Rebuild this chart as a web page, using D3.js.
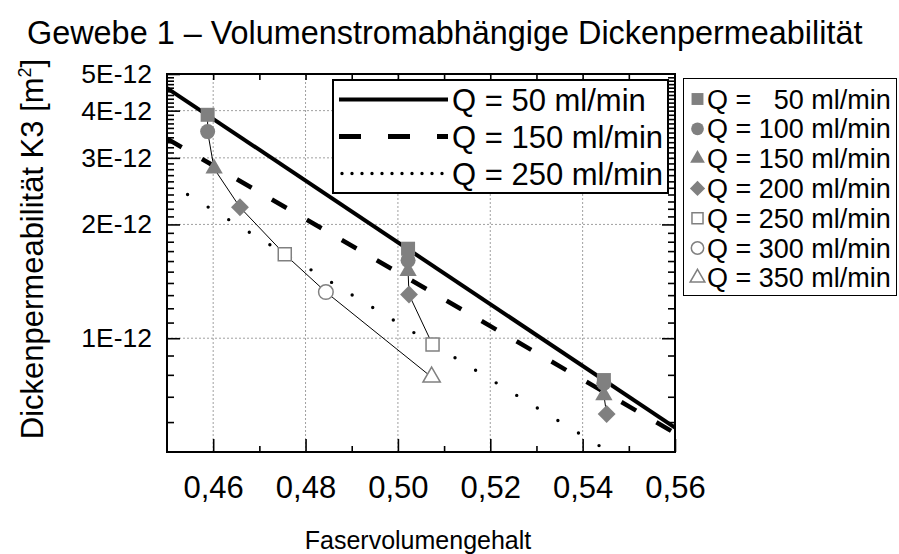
<!DOCTYPE html>
<html>
<head>
<meta charset="utf-8">
<script src="https://cdn.jsdelivr.net/npm/d3@7"></script>
<style>
  html, body { margin: 0; padding: 0; background: #fff; }
  svg { display: block; font-family: 'Liberation Sans', Arial, Helvetica, sans-serif; }
  text { white-space: pre; fill: #000; }
</style>
</head>
<body>
<svg id="chart" width="899" height="554"></svg>
<script>
// Flow rates Q [ml/min] and their marker styles
const flowRates = [50, 100, 150, 200, 250, 300, 350];
const flowLabels = ["Q =   50 ml/min", "Q = 100 ml/min", "Q = 150 ml/min", "Q = 200 ml/min",
                    "Q = 250 ml/min", "Q = 300 ml/min", "Q = 350 ml/min"];

// Measurement runs: fibre volume fraction and permeability K3 [1E-12 m²]
const run1Q  = [50, 100, 150, 200, 250, 300, 350];
const run1Vf = [0.4588, 0.4588, 0.4602, 0.4658, 0.4755, 0.4844, 0.5073];
const run1K  = [3.90, 3.52, 2.81, 2.22, 1.667, 1.325, 0.789];

const run2Q  = [50, 100, 150, 200, 250];
const run2Vf = [0.5022, 0.5022, 0.5022, 0.5024, 0.5075];
const run2K  = [1.725, 1.607, 1.506, 1.305, 0.962];

const run3Q  = [50, 100, 150, 200];
const run3Vf = [0.5446, 0.5446, 0.5446, 0.5452];
const run3K  = [0.775, 0.760, 0.707, 0.630];

// Exponential fits, given by their values at both ends of the fibre volume axis [1E-12 m²]
const fitLabels = ["Q = 50 ml/min", "Q = 150 ml/min", "Q = 250 ml/min"];
const fitVf   = [0.45, 0.56];
const fit50K  = [4.59, 0.580];
const fit150K = [3.37, 0.561];
const fit250K = [2.59, 0.392];

// Axis ticks
const xTicks = [0.46, 0.48, 0.50, 0.52, 0.54, 0.56];
const xTickLabels = ["0,46", "0,48", "0,50", "0,52", "0,54", "0,56"];
const yTicks = [1, 2, 3, 4, 5];
const yTickLabels = ["1E-12", "2E-12", "3E-12", "4E-12", "5E-12"];

// ---------------------------------------------------------------------------
const svg = d3.select("#chart");
const W = 899, H = 554;
const plot = { left: 167, right: 675, top: 74, bottom: 452 };
const GREY = "#808080";

svg.append("rect").attr("width", W).attr("height", H).attr("fill", "#fff");

const x = d3.scaleLinear().domain([0.45, 0.56]).range([plot.left, plot.right]);
const y = d3.scaleLog().domain([0.5, 5]).range([plot.bottom, plot.top]);

// minor tick positions
const xMinorBottom = d3.range(0.47, 0.556, 0.02);
const xMinorTop = d3.range(0.46, 0.556, 0.01);
const yMinor = [];
[0.5, 1, 2, 3, 4].forEach(base => {
  const step = 0.1;
  for (let v = base + step; v < (base === 0.5 ? 1 : base + 1) - 1e-9; v += step) yMinor.push(+v.toFixed(2));
});

// grid
const grid = svg.append("g").attr("stroke", "#a0a0a0").attr("stroke-width", 1).attr("stroke-dasharray", "2,2");
grid.selectAll("line.gx").data(xTicks.filter(d => d < 0.555)).join("line")
  .attr("x1", d => x(d)).attr("x2", d => x(d)).attr("y1", plot.top).attr("y2", plot.bottom);
grid.selectAll("line.gy").data(yTicks.filter(d => d < 5)).join("line")
  .attr("x1", plot.left).attr("x2", plot.right).attr("y1", d => y(d)).attr("y2", d => y(d));

// clip for plotted data
svg.append("clipPath").attr("id", "plotClip").append("rect")
  .attr("x", plot.left).attr("y", plot.top).attr("width", plot.right - plot.left).attr("height", plot.bottom - plot.top);

const dataG = svg.append("g").attr("clip-path", "url(#plotClip)");

// fit lines
const fitLine = d3.line().x(d => x(d[0])).y(d => y(d[1]));
const fits = [
  { k: fit50K, width: 4, dash: null, cap: "butt" },
  { k: fit150K, width: 4.5, dash: "17 23.4", cap: "butt" },
  { k: fit250K, width: 3.4, dash: "0 24.1", cap: "round" }
];
fits.forEach(f => {
  dataG.append("path")
    .attr("d", fitLine(fitVf.map((v, i) => [v, f.k[i]])))
    .attr("fill", "none").attr("stroke", "#000")
    .attr("stroke-width", f.width)
    .attr("stroke-dasharray", f.dash)
    .attr("stroke-linecap", f.cap);
});

// marker shapes for each flow rate
function markerPath(q, scale) {
  const s = scale || 1;
  const idx = flowRates.indexOf(q);
  const specs = [
    { type: d3.symbolSquare, size: 196, rot: 0, filled: true },
    { type: d3.symbolCircle, size: 177, rot: 0, filled: true },
    { type: d3.symbolTriangle, size: 130, rot: 0, filled: true },
    { type: d3.symbolSquare, size: 160, rot: 45, filled: true },
    { type: d3.symbolSquare, size: 169, rot: 0, filled: false },
    { type: d3.symbolCircle, size: 167, rot: 0, filled: false },
    { type: d3.symbolTriangle, size: 130, rot: 0, filled: false }
  ];
  const sp = specs[idx];
  return { d: d3.symbol().type(sp.type).size(sp.size * s * s)(), rot: sp.rot, filled: sp.filled };
}

function drawMarker(g, cx, cy, q, scale) {
  const m = markerPath(q, scale);
  g.append("path")
    .attr("d", m.d)
    .attr("transform", `translate(${cx},${cy}) rotate(${m.rot})`)
    .attr("fill", m.filled ? GREY : "#fff")
    .attr("stroke", m.filled ? "none" : GREY)
    .attr("stroke-width", m.filled ? 0 : 1.5);
}

// measurement runs: thin connecting line, then markers
const runs = [
  { q: run1Q, vf: run1Vf, k: run1K },
  { q: run2Q, vf: run2Vf, k: run2K },
  { q: run3Q, vf: run3Vf, k: run3K }
];
const runLine = d3.line().x(d => x(d.vf)).y(d => y(d.k));
runs.forEach(r => {
  const pts = r.q.map((q, i) => ({ q, vf: r.vf[i], k: r.k[i] }));
  dataG.append("path").attr("d", runLine(pts))
    .attr("fill", "none").attr("stroke", "#000").attr("stroke-width", 1);
});
runs.forEach(r => {
  r.q.forEach((q, i) => drawMarker(dataG, x(r.vf[i]), y(r.k[i]), q, 1));
});

// axes (inward ticks)
function styleAxis(g) {
  g.select(".domain").remove();
  g.selectAll(".tick line").attr("stroke", "#000").attr("stroke-width", 1.6);
}
svg.append("g").attr("transform", `translate(0,${plot.bottom})`)
  .call(d3.axisBottom(x).tickValues(xMinorBottom).tickSizeInner(-6).tickSizeOuter(0).tickFormat(""))
  .call(styleAxis);
const xAxisG = svg.append("g").attr("transform", `translate(0,${plot.bottom})`)
  .call(d3.axisBottom(x).tickValues(xTicks).tickSizeInner(-13).tickSizeOuter(0)
    .tickPadding(24).tickFormat((d, i) => xTickLabels[i]))
  .call(styleAxis);
xAxisG.selectAll(".tick text")
  .attr("font-size", 31).attr("font-family", null);

svg.append("g").attr("transform", `translate(0,${plot.top})`)
  .call(d3.axisTop(x).tickValues(xMinorTop).tickSizeInner(-6).tickSizeOuter(0).tickFormat(""))
  .call(styleAxis);

svg.append("g").attr("transform", `translate(${plot.left},0)`)
  .call(d3.axisLeft(y).tickValues(yMinor).tickSizeInner(-7).tickSizeOuter(0).tickFormat(""))
  .call(styleAxis);
const yAxisG = svg.append("g").attr("transform", `translate(${plot.left},0)`)
  .call(d3.axisLeft(y).tickValues(yTicks).tickSizeInner(-13).tickSizeOuter(0)
    .tickPadding(15).tickFormat((d, i) => yTickLabels[i]))
  .call(styleAxis);
yAxisG.selectAll(".tick text")
  .attr("font-size", 26.5).attr("font-family", null);

svg.append("g").attr("transform", `translate(${plot.right},0)`)
  .call(d3.axisRight(y).tickValues(yMinor).tickSizeInner(-7).tickSizeOuter(0).tickFormat(""))
  .call(styleAxis);
svg.append("g").attr("transform", `translate(${plot.right},0)`)
  .call(d3.axisRight(y).tickValues(yTicks.filter(d => d < 5)).tickSizeInner(-13).tickSizeOuter(0).tickFormat(""))
  .call(styleAxis);

// frame
svg.append("rect")
  .attr("x", plot.left).attr("y", plot.top)
  .attr("width", plot.right - plot.left).attr("height", plot.bottom - plot.top)
  .attr("fill", "none").attr("stroke", "#000").attr("stroke-width", 2);

// legend of the fit lines (inside the plot)
const leg1 = svg.append("g");
leg1.append("rect").attr("x", 333).attr("y", 80).attr("width", 335).attr("height", 113)
  .attr("fill", "#fff").attr("stroke", "#000").attr("stroke-width", 2);
const leg1Rows = [99.5, 136.5, 173.5];
const leg1Dash = [null, "22 27", "0 10"];
const leg1Width = [4, 5, 3.4];
const leg1Cap = ["butt", "butt", "round"];
fitLabels.forEach((lab, i) => {
  leg1.append("line")
    .attr("x1", i === 2 ? 342 : 339).attr("x2", 448)
    .attr("y1", leg1Rows[i]).attr("y2", leg1Rows[i])
    .attr("stroke", "#000").attr("stroke-width", leg1Width[i])
    .attr("stroke-dasharray", leg1Dash[i]).attr("stroke-linecap", leg1Cap[i]);
  leg1.append("text")
    .attr("x", 452).attr("y", leg1Rows[i] + 11)
    .attr("font-size", 31)
    .text(lab);
});

// legend of the markers (right of the plot)
const leg2 = svg.append("g");
leg2.append("rect").attr("x", 683.5).attr("y", 78.5).attr("width", 213).attr("height", 217)
  .attr("fill", "#fff").attr("stroke", "#000").attr("stroke-width", 1);
flowRates.forEach((q, i) => {
  const cy = 99 + i * 29.8;
  drawMarker(leg2, 697.5, cy, q, 0.85);
  leg2.append("text")
    .attr("x", 707).attr("y", cy + 9.5)
    .attr("font-size", 27)
    .text(flowLabels[i]);
});

// titles
svg.append("text")
  .attr("x", 27).attr("y", 44)
  .attr("font-size", 32.4)
  .text("Gewebe 1 – Volumenstromabhängige Dickenpermeabilität");

svg.append("text")
  .attr("x", 418).attr("y", 549)
  .attr("text-anchor", "middle")
  .attr("font-size", 25)
  .text("Faservolumengehalt");

const yTitle = svg.append("text")
  .attr("transform", "translate(43,249) rotate(-90)")
  .attr("text-anchor", "middle")
  .attr("font-size", 31);
yTitle.append("tspan").text("Dickenpermeabilität K3 [m");
yTitle.append("tspan").attr("dy", -12).attr("font-size", 18).text("2");
yTitle.append("tspan").attr("dy", 12).text("]");
</script>
</body>
</html>
